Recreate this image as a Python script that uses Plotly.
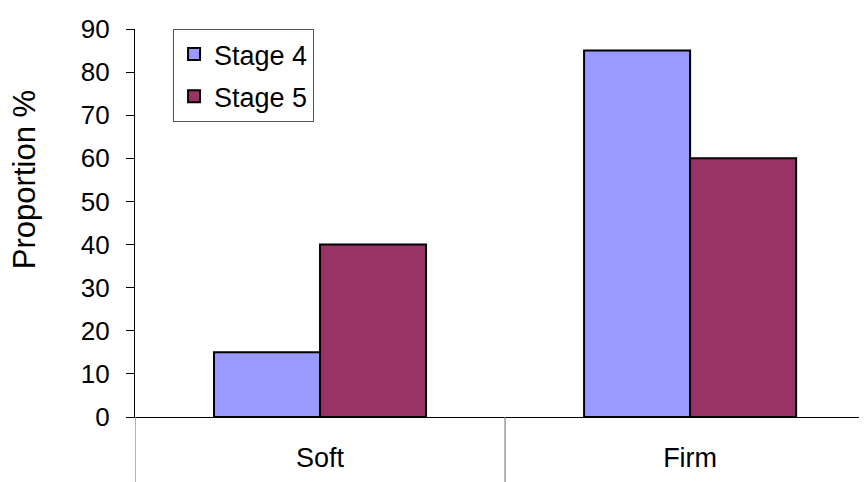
import plotly.graph_objects as go

# data
categories = ["Soft", "Firm"]
stage4 = [15, 85]
stage5 = [40, 60]
y_ticks = list(range(0, 100, 10))

fig = go.Figure()

fig.add_trace(go.Bar(
    name="Stage 4", x=categories, y=stage4, legendgroup="s4",
    marker=dict(color="#9999FF", line=dict(color="black", width=2)),
))
fig.add_trace(go.Bar(
    name="Stage 5", x=categories, y=stage5, legendgroup="s5",
    marker=dict(color="#993366", line=dict(color="black", width=2)),
))

# category separators below the axis (excel style)
for xs in [-0.5, 0.5]:
    fig.add_shape(type="line", xref="x", yref="paper",
                  x0=xs, x1=xs, y0=0, y1=-0.18,
                  line=dict(color="#808080", width=1.2))

# y axis title, placed like the original
fig.add_annotation(
    text="Proportion %", textangle=-90, showarrow=False,
    xref="paper", yref="paper", x=-0.150, y=0.611,
    xanchor="center", yanchor="middle",
    font=dict(size=31),
)

fig.update_layout(
    width=859, height=474,
    margin=dict(l=127, r=0, t=21, b=65),
    paper_bgcolor="white", plot_bgcolor="white",
    font=dict(family="Liberation Sans, Arial", size=26, color="black"),
    barmode="group", bargap=0.427, bargroupgap=0,
    showlegend=True,
    legend=dict(
        x=0.052, y=1.0, xanchor="left", yanchor="top",
        bordercolor="#555555", borderwidth=1,
        font=dict(size=27), itemwidth=30,
        traceorder="grouped", tracegroupgap=4,
    ),
    xaxis=dict(
        range=[-0.5, 1.478], showgrid=False, ticks="",
        showline=True, linecolor="black", linewidth=1.2,
        ticklabelstandoff=16, fixedrange=True,
        tickfont=dict(size=27),
    ),
    yaxis=dict(
        range=[0, 90], tickvals=y_ticks, showgrid=False,
        ticks="outside", ticklen=8, tickcolor="black",
        showline=True, linecolor="black", linewidth=1.2,
        ticklabelstandoff=11, zeroline=False,
    ),
)

fig.write_html("out.html")
